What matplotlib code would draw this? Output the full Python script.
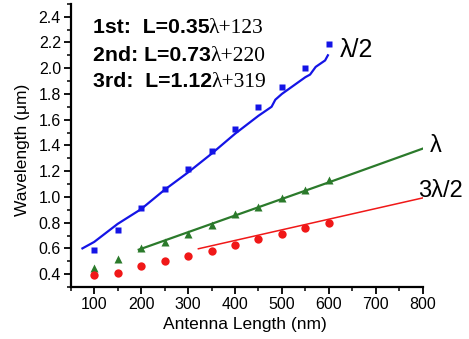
import numpy as np
import matplotlib.pyplot as plt
from matplotlib.ticker import MultipleLocator

plt.rcParams['font.family'] = ['Liberation Sans', 'DejaVu Sans']

# antenna lengths for the measured points (nm)
length = [100, 150, 200, 250, 300, 350, 400, 450, 500, 550, 600]

# measured resonance wavelengths (um)
half_wave = [0.59, 0.74, 0.91, 1.06, 1.22, 1.36, 1.53, 1.70, 1.85, 2.00, 2.19]
full_wave = [0.45, 0.52, 0.60, 0.65, 0.715, 0.78, 0.865, 0.925, 0.99, 1.055, 1.135]
three_half = [0.39, 0.41, 0.46, 0.50, 0.54, 0.58, 0.625, 0.67, 0.71, 0.755, 0.80]

# fitted / simulated curves
half_fit_x = [75, 100, 150, 200, 250, 300, 350, 400, 450, 478, 486, 500, 550, 560, 572, 592, 598]
half_fit_y = [0.60, 0.65, 0.79, 0.905, 1.055, 1.19, 1.335, 1.49, 1.63, 1.70, 1.755, 1.80,
              1.93, 1.95, 2.01, 2.06, 2.10]
full_fit_x = [195, 400, 600, 800]
full_fit_y = [0.59, 0.855, 1.113, 1.375]
three_fit_x = [322, 800]
three_fit_y = [0.597, 0.992]

blue = '#1414e6'
green = '#2b7a2b'
red = '#f01818'

W, H = 469, 339
fig = plt.figure(figsize=(W / 100, H / 100), dpi=100)
ax = fig.add_axes([70.7 / W, (H - 287) / H, (422.7 - 70.7) / W, (287 - 3.8) / H])

ax.plot(half_fit_x, half_fit_y, color=blue, lw=1.6)
ax.plot(full_fit_x, full_fit_y, color=green, lw=1.6)
ax.plot(three_fit_x, three_fit_y, color=red, lw=1.1)

ax.plot(length, half_wave, 's', color=blue, ms=5, mec='none')
ax.plot(length, full_wave, '^', color=green, ms=6, mec='none')
ax.plot(length, three_half, 'o', color=red, ms=6, mec='none')

ax.set_xlim(50, 800)
ax.set_ylim(0.3, 2.5)
ax.xaxis.set_minor_locator(MultipleLocator(50))
ax.yaxis.set_minor_locator(MultipleLocator(0.1))
ax.set_xticks(np.arange(100, 801, 100))
ax.set_yticks(np.arange(0.4, 2.41, 0.2))
ax.set_yticklabels([f"{v:.1f}" for v in np.arange(0.4, 2.41, 0.2)])

for s in ['top', 'right']:
    ax.spines[s].set_visible(False)
for s in ['left', 'bottom']:
    ax.spines[s].set_linewidth(1.6)
ax.tick_params(which='major', direction='out', length=5, width=1.3, labelsize=11.5, pad=2)
ax.tick_params(which='minor', direction='out', length=3, width=1.1)

fig.text(245 / W, 1 - 325 / H, 'Antenna Length (nm)', fontsize=12.5, ha='center', va='center')
fig.text(22 / W, 1 - 150 / H, 'Wavelength (\u03bcm)', fontsize=12.5, rotation=90,
         ha='center', va='center')

# fit equations: bold part, then serif part right after it on the same baseline
eqs = [('1st:  L=0.35', '\u03bb+123', 33), ('2nd: L=0.73', '\u03bb+220', 61),
       ('3rd:  L=1.12', '\u03bb+319', 87)]
renderer = fig.canvas.get_renderer()
for bold_part, serif_part, base in eqs:
    t = fig.text(93 / W, 1 - base / H, bold_part, fontsize=15.3, fontweight='bold',
                 va='baseline')
    x_end = t.get_window_extent(renderer).x1
    fig.text((x_end - 1) / W, 1 - base / H, serif_part, fontsize=15.5, va='baseline',
             family=['Liberation Serif', 'DejaVu Serif'])

fig.text(340 / W, 1 - 57 / H, '\u03bb/2', fontsize=18, va='baseline')
fig.text(430 / W, 1 - 152 / H, '\u03bb', fontsize=17, va='baseline')
fig.text(418 / W, 1 - 197 / H, '3\u03bb/2', fontsize=17, va='baseline')

fig.savefig('out.png', dpi=100)
